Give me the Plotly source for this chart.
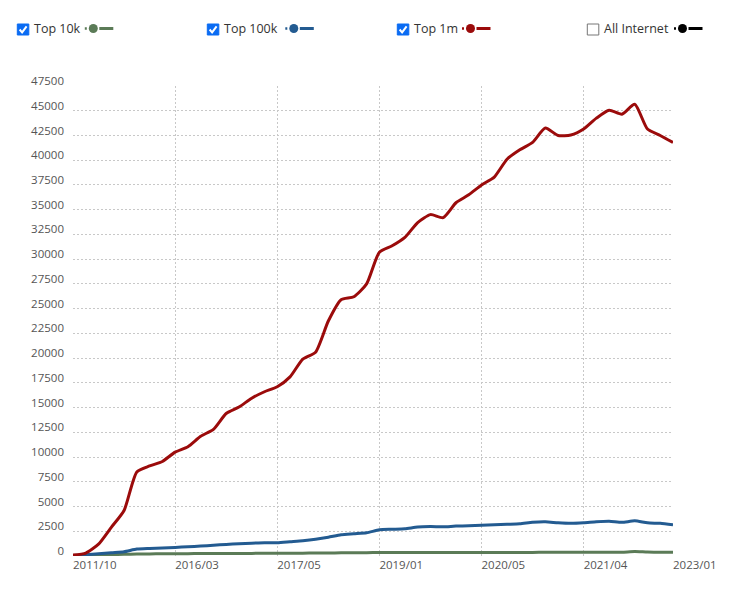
import plotly.graph_objects as go

#  #  #  Data (one point per sample)
top_1m = [100, 300, 1200, 2900, 4600, 8500, 9100, 9550, 10500, 11050,
          12100, 12800, 14400, 15050, 15950, 16600, 17100, 18100, 19900, 20600,
          23750, 25900, 26200, 27500, 30700, 31350, 32200, 33700, 34500, 34200,
          35700, 36500, 37500, 38300, 40100, 41050, 41800, 43250, 42500, 42550,
          43150, 44250, 45050, 44650, 45650, 43150, 42500, 41800]
top_100k = [50, 120, 220, 330, 430, 700, 760, 800, 870, 930,
            1000, 1080, 1170, 1230, 1300, 1330, 1350, 1450, 1550, 1700,
            1900, 2150, 2250, 2350, 2650, 2700, 2750, 2930, 2970, 2950,
            3020, 3050, 3100, 3150, 3200, 3250, 3400, 3450, 3350, 3300,
            3350, 3450, 3500, 3400, 3550, 3350, 3300, 3150]
top_10k = [50, 80, 110, 140, 170, 200, 210, 220, 230, 240,
           245, 250, 255, 260, 265, 270, 275, 280, 290, 300,
           310, 320, 330, 340, 350, 355, 355, 355, 355, 355,
           360, 360, 360, 365, 365, 365, 365, 370, 370, 370,
           375, 375, 380, 380, 450, 400, 385, 380]
date_labels = ["2011/10", "2016/03", "2017/05", "2019/01", "2020/05", "2021/04", "2023/01"]
y_ticks = list(range(0, 47501, 2500))

x = list(range(len(top_1m)))
tick_pos = list(range(0, len(x), 8)) + [len(x) - 1]

series = [
    ("Top 10k", top_10k, "#5b7b57", True),
    ("Top 100k", top_100k, "#235b91", True),
    ("Top 1m", top_1m, "#9b0b0b", True),
    ("All Internet", None, "#000000", False),
]

fig = go.Figure()
for name, vals, col, on in series:
    if vals is None:
        continue
    fig.add_trace(go.Scatter(x=x, y=vals, name=name, mode="lines",
                             line=dict(color=col, width=3, shape="spline", smoothing=0.6),
                             hoverinfo="x+y"))

#  page is drawn with an 8px body margin, so the figure is 8px smaller
W, H = 729, 589
L, T = 65, 78
pw, ph = 600, 470

#  helpers: page pixel -> paper coords (plot area spans 73..673 x 86..556 on the page)
def px(v):
    return (v - 73) / pw


def py(v):
    return (556 - v) / ph


#  custom legend row at the top (checkbox, label, dot-circle-line glyph)
shapes, annos = [], []
legend_cb = [17.3, 207.3, 397.3, 587.3]
legend_circ = [93.3, 293.8, 470.5, 682.5]
for (name, vals, col, on), lx, cx in zip(series, legend_cb, legend_circ):
    cy = 29.5
    if on:
        shapes.append(dict(type="rect", xref="paper", yref="paper",
                           x0=px(lx), x1=px(lx + 11.5), y0=py(cy + 5.5), y1=py(cy - 5.5),
                           fillcolor="#0b6cf3", line=dict(color="#0b6cf3", width=1)))
        path = "M {} {} L {} {} L {} {}".format(px(lx + 2.3), py(cy), px(lx + 4.8), py(cy + 2.8),
                                                 px(lx + 9.3), py(cy - 3.2))
        shapes.append(dict(type="path", xref="paper", yref="paper", path=path,
                           line=dict(color="white", width=2)))
    else:
        shapes.append(dict(type="rect", xref="paper", yref="paper",
                           x0=px(lx), x1=px(lx + 11.5), y0=py(cy + 5.5), y1=py(cy - 5.5),
                           fillcolor="white", line=dict(color="#767676", width=1)))
    annos.append(dict(x=px(lx + 14.5), y=py(cy - 0.5), xref="paper", yref="paper", text=name,
                      showarrow=False, xanchor="left", yanchor="middle",
                      font=dict(family="Open Sans", size=12.5, color="#333")))
    gy = 28.5
    shapes.append(dict(type="line", xref="paper", yref="paper", x0=px(cx - 8.5), x1=px(cx - 6.5),
                       y0=py(gy), y1=py(gy), line=dict(color=col, width=2.5)))
    shapes.append(dict(type="circle", xref="paper", yref="paper", x0=px(cx - 4.5), x1=px(cx + 4.5),
                       y0=py(gy + 4.5), y1=py(gy - 4.5), fillcolor=col, line=dict(color=col, width=0)))
    shapes.append(dict(type="line", xref="paper", yref="paper", x0=px(cx + 6), x1=px(cx + 20),
                       y0=py(gy), y1=py(gy), line=dict(color=col, width=3)))

grid = dict(showgrid=True, gridcolor="#c8c8c8", griddash="2px,2px", gridwidth=1,
            zeroline=False, showline=False, ticks="")

fig.update_layout(
    width=W, height=H,
    margin=dict(l=L, r=W - L - pw, t=T, b=H - T - ph),
    plot_bgcolor="white", paper_bgcolor="white",
    showlegend=False,
    font=dict(family="Open Sans", size=11.5, color="#555"),
    shapes=shapes, annotations=annos,
    xaxis=dict(range=[0, len(x) - 1], tickvals=tick_pos, ticktext=date_labels,
               ticklabelposition="outside right", **grid),
    yaxis=dict(range=[0, 47500], tickvals=y_ticks, ticktext=[str(v) for v in y_ticks],
               ticklabelstandoff=8, ticklabelshift=-5, **grid),
)

fig.write_html("out.html")
